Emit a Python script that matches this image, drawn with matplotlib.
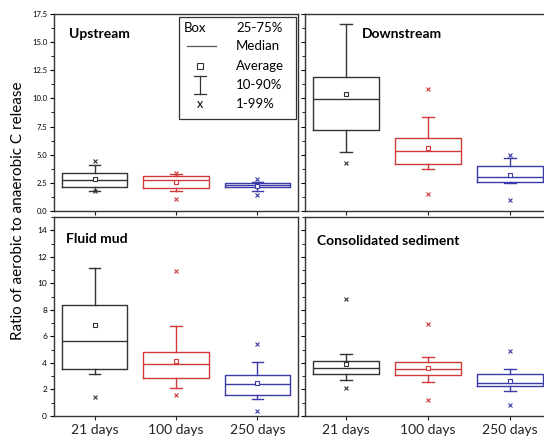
import matplotlib
matplotlib.use("Agg")
import matplotlib.pyplot as plt
from matplotlib.ticker import MultipleLocator

plt.rcParams['font.family'] = ['Lato', 'DejaVu Sans']

# Box statistics, per panel and incubation time
days = ['21 days', '100 days', '250 days']
colors = ['#333333', '#d03a3a', '#3a3aa8']
panels = ['Upstream', 'Downstream', 'Fluid mud', 'Consolidated sediment']

# each list: [21 days, 100 days, 250 days]
q1 = {
    'Upstream': [2.10, 2.07, 2.10],
    'Downstream': [7.16, 4.20, 2.60],
    'Fluid mud': [3.56, 2.87, 1.60],
    'Consolidated sediment': [3.20, 3.10, 2.26],
}
median = {
    'Upstream': [2.73, 2.73, 2.35],
    'Downstream': [9.98, 5.30, 2.99],
    'Fluid mud': [5.67, 3.94, 2.41],
    'Consolidated sediment': [3.61, 3.58, 2.46],
}
q3 = {
    'Upstream': [3.35, 3.14, 2.52],
    'Downstream': [11.87, 6.45, 4.03],
    'Fluid mud': [8.36, 4.80, 3.07],
    'Consolidated sediment': [4.14, 4.07, 3.13],
}
p10 = {
    'Upstream': [1.80, 1.78, 1.78],
    'Downstream': [5.24, 3.76, 2.46],
    'Fluid mud': [3.20, 2.08, 1.27],
    'Consolidated sediment': [2.72, 2.57, 1.85],
}
p90 = {
    'Upstream': [4.08, 3.30, 2.55],
    'Downstream': [16.6, 8.35, 4.74],
    'Fluid mud': [11.18, 6.76, 4.09],
    'Consolidated sediment': [4.70, 4.47, 3.53],
}
mean = {
    'Upstream': [2.84, 2.57, 2.22],
    'Downstream': [10.42, 5.57, 3.23],
    'Fluid mud': [6.83, 4.14, 2.49],
    'Consolidated sediment': [3.91, 3.63, 2.67],
}
p1 = {
    'Upstream': [1.75, 1.09, 1.42],
    'Downstream': [4.26, 1.54, 1.00],
    'Fluid mud': [1.42, 1.58, 0.41],
    'Consolidated sediment': [2.11, 1.19, 0.81],
}
p99 = {
    'Upstream': [4.47, 3.40, 2.82],
    'Downstream': [16.6, 10.8, 4.97],
    'Fluid mud': [11.18, 10.9, 5.39],
    'Consolidated sediment': [8.79, 6.91, 4.88],
}

W, H = 544, 440
fig = plt.figure(figsize=(W / 100, H / 100), dpi=100)


def rect(x0, y0, x1, y1):
    return [x0 / W, 1 - y1 / H, (x1 - x0) / W, (y1 - y0) / H]


axes = {
    'Upstream': fig.add_axes(rect(54, 14, 298, 211)),
    'Downstream': fig.add_axes(rect(305, 14, 551, 211)),
    'Fluid mud': fig.add_axes(rect(54, 217, 298, 416)),
    'Consolidated sediment': fig.add_axes(rect(305, 217, 551, 416)),
}

title_pos = {
    'Upstream': (0.06, 0.90),
    'Downstream': (0.23, 0.90),
    'Fluid mud': (0.05, 0.89),
    'Consolidated sediment': (0.05, 0.88),
}

for i, name in enumerate(panels):
    ax = axes[name]
    for j in range(3):
        # 1% / 99% marks that sit on a whisker cap are hidden in the original
        fl = [v for v in (p1[name][j], p99[name][j])
              if v not in (p10[name][j], p90[name][j])]
        st = [{
            'med': median[name][j], 'q1': q1[name][j], 'q3': q3[name][j],
            'whislo': p10[name][j], 'whishi': p90[name][j],
            'mean': mean[name][j], 'fliers': fl,
        }]
        c = colors[j]
        ax.bxp(st, positions=[j + 1], widths=0.8, showmeans=True,
               boxprops=dict(color=c, lw=1.0),
               medianprops=dict(color=c, lw=1.0),
               whiskerprops=dict(color=c, lw=1.0),
               capprops=dict(color=c, lw=1.0),
               capwidths=0.14,
               meanprops=dict(marker='s', markersize=2.5, markerfacecolor='white',
                              markeredgecolor=c, markeredgewidth=0.8),
               flierprops=dict(marker='x', markersize=2.5, markeredgecolor=c,
                               markeredgewidth=0.8))
    ax.set_xlim(0.5, 3.5)
    if i < 2:
        ax.set_ylim(0, 17.5)
        ax.yaxis.set_major_locator(MultipleLocator(2.5))
        ax.yaxis.set_minor_locator(MultipleLocator(1.25))
    else:
        ax.set_ylim(0, 15)
        ax.yaxis.set_major_locator(MultipleLocator(2))
        ax.yaxis.set_minor_locator(MultipleLocator(1))
    ax.set_xticks([1, 2, 3])
    if i >= 2:
        ax.set_xticklabels(days, fontsize=10)
    else:
        ax.set_xticklabels([])
    ax.tick_params(axis='x', length=3, width=0.8, pad=3, colors='#222222')
    ax.tick_params(axis='y', which='major', length=3, width=0.8,
                   labelsize=5.5 if i < 2 else 6, pad=2)
    ax.tick_params(axis='y', which='minor', length=2, width=0.6)
    if i % 2 == 1:
        ax.set_yticklabels([])
    for s in ax.spines.values():
        s.set_linewidth(1.0)
        s.set_color('#333333')
    tx, ty = title_pos[name]
    ax.text(tx, ty, name, transform=ax.transAxes, fontsize=10,
            fontweight='bold', va='center', ha='left')

# Origin-style key drawn in the upstream panel
ax = axes['Upstream']
ax.add_patch(plt.Rectangle((0.512, 0.467), 0.48, 0.518, transform=ax.transAxes,
                           fill=False, lw=0.9, ec='#333333'))
rows = [0.929, 0.838, 0.738, 0.640, 0.543]
labels = ['25-75%', 'Median', 'Average', '10-90%', '1-99%']
for y, lab in zip(rows, labels):
    ax.text(0.746, y, lab, transform=ax.transAxes, fontsize=9.5,
            va='center', ha='left')
ax.text(0.533, rows[0], 'Box', transform=ax.transAxes, fontsize=9.5,
        va='center', ha='left')
ax.plot([0.545, 0.664], [rows[1], rows[1]], transform=ax.transAxes,
        color='#555555', lw=0.9)
ax.plot([0.598], [rows[2]], transform=ax.transAxes, marker='s', ms=4,
        mfc='white', mec='#333333', mew=0.8)
ax.plot([0.598, 0.598], [0.594, 0.685], transform=ax.transAxes,
        color='#333333', lw=0.9)
ax.plot([0.573, 0.623], [0.685, 0.685], transform=ax.transAxes,
        color='#333333', lw=0.9)
ax.plot([0.573, 0.623], [0.594, 0.594], transform=ax.transAxes,
        color='#333333', lw=0.9)
ax.text(0.598, rows[4], 'x', transform=ax.transAxes, fontsize=9,
        va='center', ha='center')

fig.text(0.033, 0.52, 'Ratio of aerobic to anaerobic C release',
         rotation=90, va='center', ha='center', fontsize=11)

fig.savefig('out.png', dpi=100)
